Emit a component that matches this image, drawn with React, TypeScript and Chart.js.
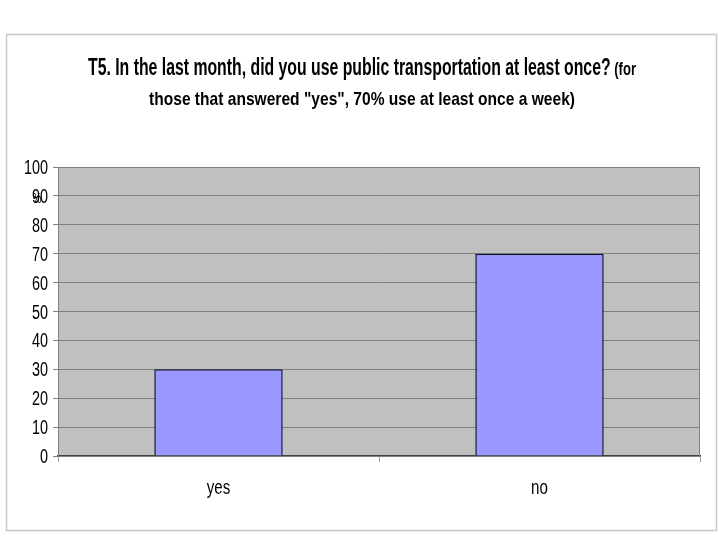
import React, { useEffect, useRef } from "react";
import { Chart, registerables } from "chart.js";
Chart.register(...registerables);

const categories = ["yes", "no"];
const values = [30, 70];
const yMin = 0;
const yMax = 100;
const yStep = 10;
const titleMain = "T5. In the last month, did you use public transportation at least once?";
const titleTail = " (for";
const titleLine2 = 'those that answered "yes", 70% use at least once a week)';
const yUnit = "%";

const FONT = '"Liberation Sans", Arial, sans-serif';
const NARROW = 0.72;

function narrowText(ctx: any, text: string, x: number, y: number, align: string, font: string) {
  ctx.save();
  ctx.font = font;
  const w = ctx.measureText(text).width * NARROW;
  let lx = x;
  if (align === "center") lx = x - w / 2;
  else if (align === "right") lx = x - w;
  ctx.translate(lx, y);
  ctx.scale(NARROW, 1);
  ctx.textAlign = "left";
  ctx.fillText(text, 0, 0);
  ctx.restore();
}

const decor = {
  id: "decor",
  beforeDraw(chart: any) {
    const { ctx, chartArea } = chart;
    ctx.save();
    ctx.fillStyle = "#ffffff";
    ctx.fillRect(0, 0, chart.width, chart.height);
    ctx.strokeStyle = "#c8c8c8";
    ctx.lineWidth = 1.5;
    ctx.strokeRect(6.5, 34.5, 710, 496);
    ctx.fillStyle = "#c0c0c0";
    ctx.fillRect(chartArea.left, chartArea.top, chartArea.right - chartArea.left, chartArea.bottom - chartArea.top);
    ctx.restore();
  },
  afterDraw(chart: any) {
    const { ctx, chartArea, scales } = chart;
    ctx.save();
    ctx.strokeStyle = "#808080";
    ctx.lineWidth = 1;
    ctx.strokeRect(chartArea.left + 0.5, chartArea.top + 0.5, chartArea.right - chartArea.left - 1, chartArea.bottom - chartArea.top);
    ctx.fillStyle = "#000";
    ctx.textBaseline = "alphabetic";

    // title, line 1 with mixed sizes, fitted to width
    const f1 = "bold 23px " + FONT;
    const f2 = "bold 19px " + FONT;
    ctx.font = f1;
    const w1 = ctx.measureText(titleMain).width;
    ctx.font = f2;
    const w2 = ctx.measureText(titleTail).width;
    const targetW = 548;
    const sx = targetW / (w1 + w2);
    const cx = 362;
    ctx.save();
    ctx.translate(cx - targetW / 2, 75);
    ctx.scale(sx, 1);
    ctx.textAlign = "left";
    ctx.font = f1;
    ctx.fillText(titleMain, 0, 0);
    ctx.font = f2;
    ctx.fillText(titleTail, w1, 0);
    ctx.restore();

    ctx.font = f2;
    const w3 = ctx.measureText(titleLine2).width;
    const t2 = 426;
    ctx.save();
    ctx.translate(cx - t2 / 2, 105);
    ctx.scale(t2 / w3, 1);
    ctx.textAlign = "left";
    ctx.fillText(titleLine2, 0, 0);
    ctx.restore();

    // y tick labels
    const yScale = scales.y;
    const tickFont = "20px " + FONT;
    for (let v = yMin; v <= yMax; v += yStep) {
      const py = yScale.getPixelForValue(v);
      narrowText(ctx, String(v), 48, py + 7, "right", tickFont);
    }
    // x tick labels
    const xScale = scales.x;
    categories.forEach((c, i) => {
      const px = xScale.getPixelForValue(i);
      narrowText(ctx, c, px, 494, "center", "21px " + FONT);
    });
    // unit label
    narrowText(ctx, yUnit, 37, 203, "center", "14px " + FONT);
    ctx.restore();
  },
};

export default function App() {
  const ref = useRef<HTMLCanvasElement>(null);
  useEffect(() => {
    if (!ref.current) return;
    const chart = new Chart(ref.current, {
      type: "bar",
      data: {
        labels: categories,
        datasets: [
          {
            data: values,
            backgroundColor: "#9999ff",
            borderColor: "#101040",
            borderWidth: 1.5,
            barPercentage: 0.4,
            categoryPercentage: 1,
          },
        ],
      },
      options: {
        responsive: false,
        animation: false,
        layout: { padding: { top: 167, right: 20, left: 0, bottom: 0 } },
        plugins: { legend: { display: false }, tooltip: { enabled: false }, title: { display: false } },
        scales: {
          x: {
            grid: { offset: true, drawOnChartArea: false, tickLength: 6, color: "#a0a0a0" },
            border: { color: "#404040", width: 1.5 },
            ticks: { display: false },
            afterFit: (s: any) => { s.height = 84; },
          },
          y: {
            min: yMin,
            max: yMax,
            ticks: { stepSize: yStep, display: false },
            grid: { color: "#808080", tickLength: 5 },
            border: { color: "#808080" },
            afterFit: (s: any) => { s.width = 58; },
          },
        },
      },
      plugins: [decor],
    });
    return () => chart.destroy();
  }, []);
  return (
    <div style={{ position: "absolute", left: 0, top: 0, width: 720, height: 540 }}>
      <canvas ref={ref} width={720} height={540} style={{ display: "block" }} />
    </div>
  );
}
